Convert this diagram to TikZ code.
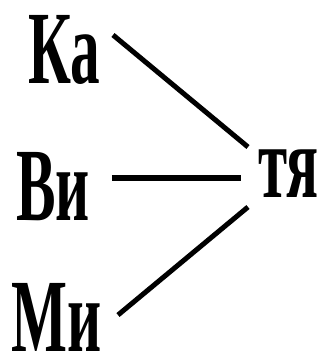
\documentclass[tikz,border=0pt]{standalone}
\usepackage{fontspec}
\usepackage{tikz}
\usetikzlibrary{calc, positioning}
\newfontfamily\syllfont[FakeStretch=0.57]{Liberation Serif}

\begin{document}
\begin{tikzpicture}[x=1pt, y=-1pt,
  syll/.style={inner sep=0pt, text depth=0pt, anchor=base west, font=\syllfont\bfseries\fontsize{104}{110}\selectfont},
  link/.style={line width=5pt},
  boldlink/.style={line width=6.5pt}]
\useasboundingbox (0,0) rectangle (321,360);

\node[syll] (ka) at (28,83) {Ка};
\node[syll] (vi) at (16,220) {Ви};
\node[syll] (mi) at (11,351) {Ми};
\node[syll] (tya) at (258,197) {тя};

\draw[link] ($(ka.base west)+(85,-48)$) -- ($(tya.base west)+(-10,-50)$);
\draw[boldlink] ($(vi.base west)+(96,-42)$) -- ($(tya.base west)+(-17,-19)$);
\draw[link] ($(mi.base west)+(107,-36)$) -- ($(tya.base west)+(-10,10)$);
\end{tikzpicture}
\end{document}
